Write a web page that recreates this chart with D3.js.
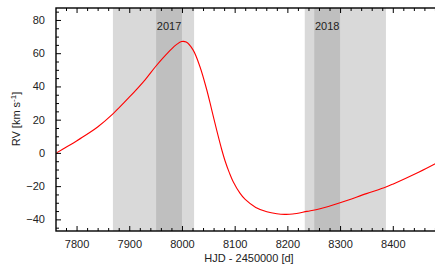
<!DOCTYPE html>
<html><head><meta charset="utf-8">
<script src="https://cdn.jsdelivr.net/npm/d3@7"></script>
<style>body{margin:0;background:#fff}svg{display:block;font-family:"Liberation Sans",Arial,sans-serif}</style>
</head><body><svg id="c" width="435" height="265"></svg>
<script>
const hjd = [7762,7780,7800,7820,7840,7869,7900,7930,7950,7965,7980,7990,7999,8008,8021,8034,8047,8056,8066,8075,8082,8090,8097,8110,8120,8140,8161,8180,8195,8210,8237,8262,8300,8350,8387,8400,8450,8482];
const rv  = [0,3.4,7.2,11.2,15.6,23.5,33.5,44,52,57.5,62.5,65.3,67,66.7,62,52,38,26.5,13.5,2.5,-5,-12,-17.2,-24.2,-28,-32.8,-35.4,-36.6,-37,-36.8,-35.2,-33.6,-30,-24.5,-20.5,-18.8,-11.5,-6.3];
const seasonLabels = ["2017","2018"];
const lightBands = [[7869,8023],[8233,8387]];
const darkBands = [[7951,8000],[8251,8300]];
const xTicks = [7800,7900,8000,8100,8200,8300,8400];
const yTicks = [-40,-20,0,20,40,60,80];

const svg = d3.select("#c");
const L=56,R=436,T=8,B=231;
const x = d3.scaleLinear().domain([7761,8482]).range([L,R]);
const y = d3.scaleLinear().domain([-47,87.2]).range([B,T]);

svg.append("g").selectAll("rect").data(lightBands).join("rect")
  .attr("x",d=>x(d[0])).attr("width",d=>x(d[1])-x(d[0]))
  .attr("y",T).attr("height",B-T).attr("fill","#d9d9d9");
svg.append("g").selectAll("rect").data(darkBands).join("rect")
  .attr("x",d=>x(d[0])).attr("width",d=>x(d[1])-x(d[0]))
  .attr("y",T).attr("height",B-T).attr("fill","#bfbfbf");
svg.append("g").selectAll("text").data(darkBands).join("text")
  .attr("x",d=>x((d[0]+d[1])/2)).attr("y",30).attr("text-anchor","middle")
  .attr("font-size",11).attr("fill","#222").text((d,i)=>seasonLabels[i]);

const pts = hjd.map((d,i)=>[d,rv[i]]);
svg.append("path").datum(pts)
  .attr("d",d3.line().x(d=>x(d[0])).y(d=>y(d[1])).curve(d3.curveCatmullRom.alpha(0.5)))
  .attr("fill","none").attr("stroke","#ff0000").attr("stroke-width",1.1);

const xMinor = d3.range(7780,8482,20).filter(v=>v%100!==0);
const yMinor = d3.range(-45,87,5).filter(v=>v%20!==0);

function styleAxis(g){
  g.select(".domain").remove();
  g.selectAll(".tick line").attr("stroke","#000").attr("stroke-width",1);
  g.selectAll(".tick text").attr("fill","#222").attr("font-size",11).attr("font-family","Liberation Sans, Arial, sans-serif");
}
svg.append("g").attr("transform",`translate(0,${B})`)
  .call(d3.axisBottom(x).tickValues(xTicks).tickFormat(d3.format("d")).tickSizeInner(-5).tickSizeOuter(0).tickPadding(9))
  .call(styleAxis);
svg.append("g").attr("transform",`translate(0,${B})`)
  .call(d3.axisBottom(x).tickValues(xMinor).tickFormat("").tickSizeInner(-3).tickSizeOuter(0)).call(styleAxis);
svg.append("g").attr("transform",`translate(0,${T})`)
  .call(d3.axisTop(x).tickValues(xTicks).tickFormat("").tickSizeInner(-5).tickSizeOuter(0)).call(styleAxis);
svg.append("g").attr("transform",`translate(0,${T})`)
  .call(d3.axisTop(x).tickValues(xMinor).tickFormat("").tickSizeInner(-3).tickSizeOuter(0)).call(styleAxis);
svg.append("g").attr("transform",`translate(${L},0)`)
  .call(d3.axisLeft(y).tickValues(yTicks).tickFormat(d3.format("d")).tickSizeInner(-5).tickSizeOuter(0).tickPadding(11))
  .call(styleAxis);
svg.append("g").attr("transform",`translate(${L},0)`)
  .call(d3.axisLeft(y).tickValues(yMinor).tickFormat("").tickSizeInner(-3).tickSizeOuter(0)).call(styleAxis);

svg.append("rect").attr("x",L).attr("y",T).attr("width",R-L).attr("height",B-T)
  .attr("fill","none").attr("stroke","#000").attr("stroke-width",1.4);

svg.append("text").attr("x",249).attr("y",262).attr("text-anchor","middle")
  .attr("font-size",11).attr("fill","#222").text("HJD - 2450000 [d]");
const yl = svg.append("text").attr("transform","translate(20,119) rotate(-90)")
  .attr("text-anchor","middle").attr("font-size",11).attr("fill","#222");
yl.append("tspan").text("RV [km s");
yl.append("tspan").attr("dy",-4).attr("font-size",8).text("-1");
yl.append("tspan").attr("dy",4).text("]");
</script></body></html>
